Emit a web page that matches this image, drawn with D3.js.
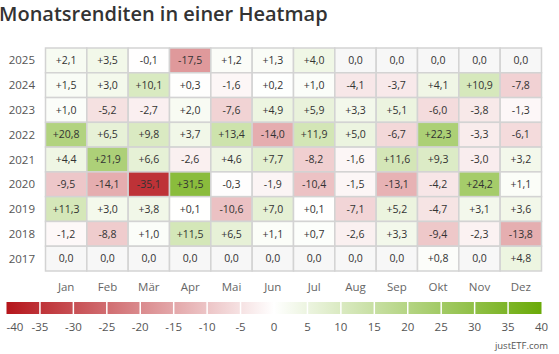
<!DOCTYPE html>
<html>
<head>
<meta charset="utf-8">
<script src="https://cdn.jsdelivr.net/npm/d3@7/dist/d3.min.js"></script>
<style>
  html, body { margin: 0; padding: 0; background: #fff; }
  svg { display: block; font-family: "Open Sans", sans-serif; }
</style>
</head>
<body>
<div id="chart"></div>
<script>
// Monthly returns heatmap (null = no data, shown as grey "0,0")
const years = ["2025", "2024", "2023", "2022", "2021", "2020", "2019", "2018", "2017"]
const months = ["Jan", "Feb", "Mär", "Apr", "Mai", "Jun", "Jul", "Aug", "Sep", "Okt", "Nov", "Dez"]
const returns = [
  [2.1, 3.5, -0.1, -17.5, 1.2, 1.3, 4.0, null, null, null, null, null],
  [1.5, 3.0, 10.1, 0.3, -1.6, 0.2, 1.0, -4.1, -3.7, 4.1, 10.9, -7.8],
  [1.0, -5.2, -2.7, 2.0, -7.6, 4.9, 5.9, 3.3, 5.1, -6.0, -3.8, -1.3],
  [20.8, 6.5, 9.8, 3.7, 13.4, -14.0, 11.9, 5.0, -6.7, 22.3, -3.3, -6.1],
  [4.4, 21.9, 6.6, -2.6, 4.6, 7.7, -8.2, -1.6, 11.6, 9.3, -3.0, 3.2],
  [-9.5, -14.1, -35.1, 31.5, -0.3, -1.9, -10.4, -1.5, -13.1, -4.2, 24.2, 1.1],
  [11.3, 3.0, 3.8, 0.1, -10.6, 7.0, 0.1, -7.1, 5.2, -4.7, 3.1, 3.6],
  [-1.2, -8.8, 1.0, 11.5, 6.5, 1.1, 0.7, -2.6, 3.3, -9.4, -2.3, -13.8],
  [null, null, null, null, null, null, null, null, null, 0.8, null, 4.8]
]
const legendTicks = [-40, -35, -30, -25, -20, -15, -10, -5, 0, 5, 10, 15, 20, 25, 30, 35, 40]

const width = 559, height = 354
const grid = { left: 45.5, right: 541.5, top: 48, bottom: 271 }

const svg = d3.select("#chart").append("svg")
  .attr("width", width).attr("height", height)

svg.append("text")
  .attr("x", -1).attr("y", 21)
  .attr("fill", "#333").attr("font-size", 20).attr("font-weight", 600)
  .text("Monatsrenditen in einer Heatmap")

const color = d3.scaleLinear()
  .domain([-40, 0, 40])
  .range(["#b5151b", "#ffffff", "#6aaa08"])
  .clamp(true)

const x = d3.scaleBand().domain(months).range([grid.left, grid.right])
const y = d3.scaleBand().domain(years).range([grid.top, grid.bottom])

const fmt = v => {
  if (v === null) return "0,0"
  const s = Math.abs(v).toFixed(1).replace(".", ",")
  if (v > 0) return "+" + s
  if (v < 0) return "-" + s
  return s
}

const cells = []
years.forEach((yr, i) => months.forEach((m, j) => cells.push({ year: yr, month: m, value: returns[i][j] })))

const g = svg.append("g")

g.selectAll("rect.cell")
  .data(cells)
  .enter().append("rect")
  .attr("class", "cell")
  .attr("x", d => x(d.month)).attr("y", d => y(d.year))
  .attr("width", x.bandwidth()).attr("height", y.bandwidth())
  .attr("fill", d => d.value === null ? "#f7f7f7" : color(d.value))
  .attr("stroke", "#d3d3d3").attr("stroke-width", 1.5)

g.selectAll("text.val")
  .data(cells)
  .enter().append("text")
  .attr("class", "val")
  .attr("x", d => x(d.month) + x.bandwidth() / 2)
  .attr("y", d => y(d.year) + y.bandwidth() / 2)
  .attr("dy", "0.35em")
  .attr("text-anchor", "middle")
  .attr("fill", "#333").attr("font-size", 10.5)
  .text(d => fmt(d.value))

// Year labels
svg.append("g").selectAll("text")
  .data(years)
  .enter().append("text")
  .attr("x", 35).attr("y", d => y(d) + y.bandwidth() / 2)
  .attr("dy", "0.35em").attr("text-anchor", "end")
  .attr("fill", "#555").attr("font-size", 11.5)
  .text(d => d)

// Month labels
svg.append("g").selectAll("text")
  .data(months)
  .enter().append("text")
  .attr("x", d => x(d) + x.bandwidth() / 2).attr("y", 287)
  .attr("dy", "0.35em").attr("text-anchor", "middle")
  .attr("fill", "#666").attr("font-size", 11.5)
  .text(d => d)

// Legend colour bar
const lx = d3.scaleLinear().domain([-40, 40]).range([6.5, 541.5])
const grad = svg.append("defs").append("linearGradient")
  .attr("id", "lg").attr("x1", "0%").attr("x2", "100%")
grad.selectAll("stop")
  .data([-40, 0, 40])
  .enter().append("stop")
  .attr("offset", d => ((d + 40) / 80 * 100) + "%")
  .attr("stop-color", d => color(d))

svg.append("rect")
  .attr("x", lx(-40)).attr("y", 302)
  .attr("width", lx(40) - lx(-40)).attr("height", 12)
  .attr("fill", "url(#lg)")

svg.append("g").selectAll("line")
  .data(legendTicks.slice(1, -1))
  .enter().append("line")
  .attr("x1", d => lx(d)).attr("x2", d => lx(d))
  .attr("y1", 302).attr("y2", 314)
  .attr("stroke", "#fff").attr("stroke-width", 1.5)

svg.append("g").selectAll("text")
  .data(legendTicks)
  .enter().append("text")
  .attr("x", d => lx(d))
  .attr("y", 327).attr("dy", "0.35em")
  .attr("text-anchor", (d, i) => i === 0 ? "start" : "middle")
  .attr("fill", "#555").attr("font-size", 11.5)
  .text(d => d)

svg.append("text")
  .attr("x", 548).attr("y", 349)
  .attr("text-anchor", "end")
  .attr("fill", "#555").attr("font-size", 9.5)
  .text("justETF.com")
</script>
</body>
</html>
